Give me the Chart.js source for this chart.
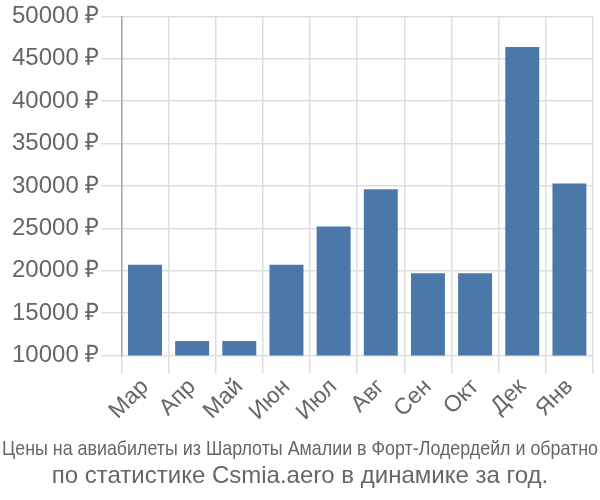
<!DOCTYPE html>
<html lang="ru">
<head>
  <meta charset="UTF-8">
  <title>Цены на авиабилеты</title>
  <script src="https://cdn.jsdelivr.net/npm/chart.js@4.4.0/dist/chart.umd.min.js"></script>
  <style>
    body { margin: 0; background: #fff; }
  </style>
</head>
<body>
  <canvas id="myChart" width="600" height="500"></canvas>
  <script>
    // months and prices (rub)
    const months = ['Мар', 'Апр', 'Май', 'Июн', 'Июл', 'Авг', 'Сен', 'Окт', 'Дек', 'Янв'];
    const prices = [20700, 11700, 11700, 20700, 25200, 29600, 19700, 19700, 46400, 30300];
    const yMin = 10000;
    const yMax = 50000;
    const yStep = 5000;
    const captionLines = [
      'Цены на авиабилеты из Шарлоты Амалии в Форт-Лодердейл и обратно',
      'по статистике Csmia.aero в динамике за год.'
    ];

    const font = "'Liberation Sans', Arial, sans-serif";

    // caption under the chart; first line is squeezed to canvas width like the original
    const captionPlugin = {
      id: 'caption',
      afterDraw(chart) {
        const c = chart.ctx;
        c.save();
        c.fillStyle = '#666';
        c.textAlign = 'center';
        c.textBaseline = 'alphabetic';
        c.font = '21px ' + font;
        c.fillText(captionLines[0], chart.width / 2, 455, 596);
        c.font = '24px ' + font;
        c.fillText(captionLines[1], chart.width / 2, 483);
        c.restore();
      }
    };

    const ctx = document.getElementById('myChart').getContext('2d');
    new Chart(ctx, {
      type: 'bar',
      data: {
        labels: months,
        datasets: [{
          data: prices,
          backgroundColor: '#4a78a8',
          borderWidth: 0,
          categoryPercentage: 1.0,
          barPercentage: 0.72
        }]
      },
      options: {
        responsive: false,
        animation: false,
        layout: { padding: { top: 3, right: 7, left: 10, bottom: 74 } },
        plugins: {
          legend: { display: false },
          tooltip: { enabled: false }
        },
        scales: {
          x: {
            grid: { color: '#dddddd', lineWidth: 1.5, offset: true, tickLength: 18 },
            border: { color: '#dddddd' },
            ticks: {
              color: '#666',
              font: { family: font, size: 23 },
              maxRotation: 45,
              minRotation: 45,
              padding: 0
            }
          },
          y: {
            min: yMin,
            max: yMax,
            grid: { color: '#dddddd', lineWidth: 1.5, tickLength: 20 },
            border: { color: '#aaaaaa', width: 1.5 },
            ticks: {
              stepSize: yStep,
              color: '#666',
              font: { family: font, size: 24 },
              padding: 2,
              callback: function(v) { return v + ' ₽'; }
            }
          }
        }
      },
      plugins: [captionPlugin]
    });
  </script>
</body>
</html>
